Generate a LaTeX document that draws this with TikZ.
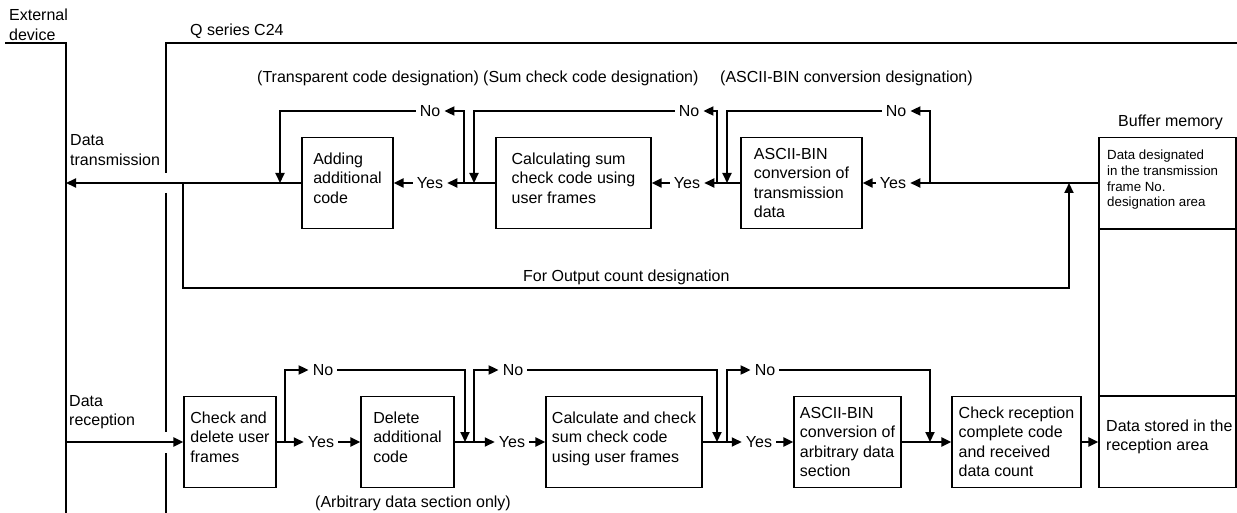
\documentclass[tikz,border=0pt]{standalone}
\usepackage{fontspec}
\setmainfont{Liberation Sans}
\usetikzlibrary{arrows.meta}
\tikzset{
  every node/.style={font=\fontsize{16}{19.5}\selectfont, inner sep=0pt},
  box/.style={draw, line width=1.2pt, minimum height=91pt, align=left, anchor=center},
  raised/.style={text depth=10pt},
  memcell/.style={draw, line width=1.2pt, minimum width=137pt, anchor=center},
  lbl/.style={inner xsep=4pt, inner ysep=2pt},
  conn/.style={line width=2pt},
  arr/.style={conn, -{Triangle[length=10pt,width=9pt]}},
  plain/.style={anchor=west, align=left},
  small/.style={font=\fontsize{13.3}{15.7}\selectfont, anchor=west, align=left},
}
\begin{document}
\begin{tikzpicture}[x=1pt,y=-1pt]
\useasboundingbox (0,0) rectangle (1237,513);

% frame lines
\draw[conn] (5,43) -- (66,43) -- (66,513);
\draw[conn] (1237,43) -- (166,43) -- (166,173);
\draw[conn] (166,193) -- (166,432);
\draw[conn] (166,453) -- (166,513);

% labels
\node[plain] (extlbl) at (9,25) {External\\device};
\node[plain] (qlbl) at (190,31) {Q series C24};
\node[plain] (dtx) at (70,150) {Data\\transmission};
\node[plain] (drx) at (69,412) {Data\\reception};
\node[plain] (tcd) at (257,78) {(Transparent code designation)};
\node[plain] (scd) at (483,78) {(Sum check code designation)};
\node[plain] (abd) at (720,78) {(ASCII-BIN conversion designation)};
\node[plain] (ocd) at (523,277) {For Output count designation};
\node[plain] (ads) at (315,503) {(Arbitrary data section only)};
\node[plain] (bml) at (1118,122) {Buffer memory};

% buffer memory
\node[memcell, minimum height=91pt] (bufU) at (1167.5,183) {};
\node[memcell, minimum height=168pt] (bufM) at (1167.5,312.5) {};
\node[memcell, minimum height=91pt] (bufL) at (1167.5,442) {};
\draw[conn] (bufU.south west) -- (bufU.south east);
\draw[conn] (bufL.north west) -- (bufL.north east);
\node[small] (bufUt) at (1107,180) {Data designated\\in the transmission\\frame No.\\designation area};
\node[plain] (bufLt) at (1106,437) {Data stored in the\\reception area};

% top boxes
\node[box, raised, minimum width=91pt] (A) at (347.5,183) {Adding\\additional\\code};
\node[box, raised, minimum width=155pt] (B) at (573.5,183) {Calculating sum\\check code using\\user frames};
\node[box, minimum width=121pt] (C) at (801.5,183) {ASCII-BIN\\conversion of\\transmission\\data};

% top labels
\node[lbl] (yesT3) at (893,183) {Yes};
\node[lbl] (noT3) at (896,111) {No};
\node[lbl] (yesT2) at (687,183) {Yes};
\node[lbl] (noT2) at (689,111) {No};
\node[lbl] (yesT1) at (430,183) {Yes};
\node[lbl] (noT1) at (430,111) {No};

% top coordinates
\coordinate (t3) at (930,183);
\coordinate (t3n) at (930,111);
\coordinate (dC) at (727,111);
\coordinate (dCb) at (727,183);
\coordinate (t2) at (717,183);
\coordinate (t2n) at (717,111);
\coordinate (dB) at (474,111);
\coordinate (dBb) at (474,183);
\coordinate (t1) at (464,183);
\coordinate (t1n) at (464,111);
\coordinate (dA) at (280,111);
\coordinate (dAb) at (280,183);
\coordinate (extT) at (66,183);
\coordinate (outJ) at (183,183);
\coordinate (outB1) at (183,288);
\coordinate (outB2) at (1069,288);
\coordinate (outT) at (1069,183);

% top connectors
\draw[conn] (bufU.west) -- (t3);
\draw[arr] (t3) -- (yesT3.east);
\draw[arr] (yesT3.west) -- (C.east);
\draw[arr] (t3) -- (t3n) -- (noT3.east);
\draw[arr] (noT3.west) -- (dC) -- (dCb);
\draw[conn] (C.west) -- (t2);
\draw[arr] (t2) -- (yesT2.east);
\draw[arr] (yesT2.west) -- (B.east);
\draw[arr] (t2) -- (t2n) -- (noT2.east);
\draw[arr] (noT2.west) -- (dB) -- (dBb);
\draw[conn] (B.west) -- (t1);
\draw[arr] (t1) -- (yesT1.east);
\draw[arr] (yesT1.west) -- (A.east);
\draw[arr] (t1) -- (t1n) -- (noT1.east);
\draw[arr] (noT1.west) -- (dA) -- (dAb);
\draw[arr] (A.west) -- (extT);
\draw[arr] (outJ) -- (outB1) -- (outB2) -- (outT);

% bottom boxes
\node[box, raised, minimum width=92pt] (R1) at (230,442) {Check and\\delete user\\frames};
\node[box, raised, minimum width=93pt] (R2) at (407.5,442) {Delete\\additional\\code};
\node[box, raised, minimum width=156pt] (R3) at (624,442) {Calculate and check\\sum check code\\using user frames};
\node[box, minimum width=107pt] (R4) at (847.5,442) {ASCII-BIN\\conversion of\\arbitrary data\\section};
\node[box, minimum width=129pt] (R5) at (1016.5,442) {Check reception\\complete code\\and received\\data count};

% bottom labels
\node[lbl] (yesB1) at (321,442) {Yes};
\node[lbl] (noB1) at (323,370) {No};
\node[lbl] (yesB2) at (512,442) {Yes};
\node[lbl] (noB2) at (513,370) {No};
\node[lbl] (yesB3) at (759,442) {Yes};
\node[lbl] (noB3) at (765,370) {No};

% bottom coordinates
\coordinate (extR) at (66,442);
\coordinate (b1) at (285,442);
\coordinate (b1n) at (285,370);
\coordinate (dR2) at (465,370);
\coordinate (dR2b) at (465,442);
\coordinate (b2) at (474,442);
\coordinate (b2n) at (474,370);
\coordinate (dR3) at (717,370);
\coordinate (dR3b) at (717,442);
\coordinate (b3) at (727,442);
\coordinate (b3n) at (727,370);
\coordinate (dR5) at (930,370);
\coordinate (dR5b) at (930,442);

% bottom connectors
\draw[arr] (extR) -- (R1.west);
\draw[conn] (R1.east) -- (b1);
\draw[arr] (b1) -- (yesB1.west);
\draw[arr] (yesB1.east) -- (R2.west);
\draw[arr] (b1) -- (b1n) -- (noB1.west);
\draw[arr] (noB1.east) -- (dR2) -- (dR2b);
\draw[conn] (R2.east) -- (b2);
\draw[arr] (b2) -- (yesB2.west);
\draw[arr] (yesB2.east) -- (R3.west);
\draw[arr] (b2) -- (b2n) -- (noB2.west);
\draw[arr] (noB2.east) -- (dR3) -- (dR3b);
\draw[conn] (R3.east) -- (b3);
\draw[arr] (b3) -- (yesB3.west);
\draw[arr] (yesB3.east) -- (R4.west);
\draw[arr] (b3) -- (b3n) -- (noB3.west);
\draw[arr] (noB3.east) -- (dR5) -- (dR5b);
\draw[arr] (R4.east) -- (R5.west);
\draw[arr] (R5.east) -- (bufL.west);
\end{tikzpicture}
\end{document}
